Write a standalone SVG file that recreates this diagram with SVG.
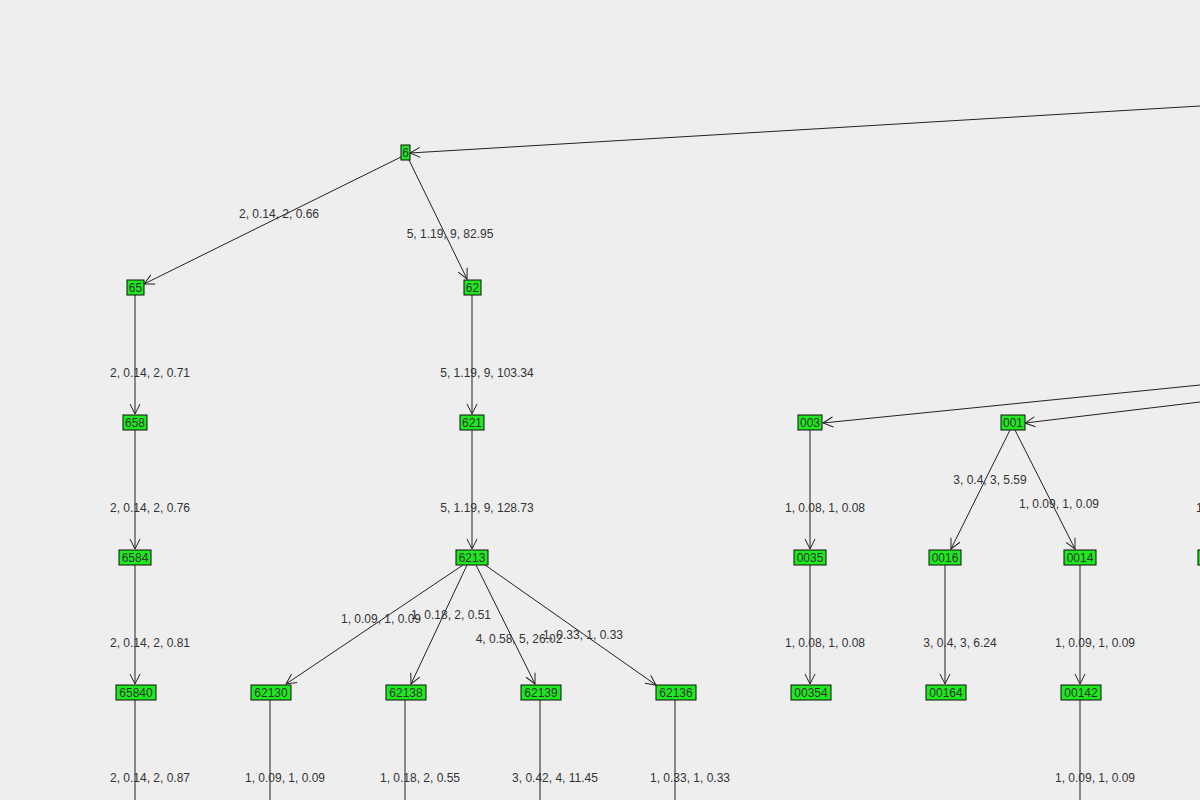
<svg xmlns="http://www.w3.org/2000/svg" width="1200" height="800" viewBox="0 0 1200 800">
<defs>
<marker id="a" viewBox="0 0 12 12" refX="11" refY="6" markerWidth="12" markerHeight="12" markerUnits="userSpaceOnUse" orient="auto"><path d="M1,1 L11,6 L1,11" fill="none" stroke="#222" stroke-width="1"/></marker>
<style>
.n rect{fill:#1ee81e;stroke:#111;stroke-width:1}
.n text{font-family:"Liberation Sans",Arial,sans-serif;font-size:12px;fill:#333;text-anchor:middle}
#edges line{stroke:#222;stroke-width:1}
#edges line.m{marker-end:url(#a)}
.l{font-family:"Liberation Sans",Arial,sans-serif;font-size:12px;fill:#333;text-anchor:middle}
</style>
</defs>
<rect width="1200" height="800" fill="#eeeeee"/>
<g id="edges">
<line class="m" x1="1200" y1="106" x2="410" y2="153"/>
<line class="m" x1="401" y1="157" x2="144" y2="284"/>
<line class="m" x1="409" y1="160" x2="467" y2="279"/>
<line class="m" x1="135" y1="295" x2="135" y2="414"/>
<line class="m" x1="472" y1="295" x2="472" y2="414"/>
<line class="m" x1="135" y1="430" x2="135" y2="549"/>
<line class="m" x1="472" y1="430" x2="472" y2="549"/>
<line class="m" x1="135" y1="565" x2="135" y2="684"/>
<line class="m" x1="463" y1="565" x2="286" y2="684"/>
<line class="m" x1="467" y1="565" x2="411" y2="684"/>
<line class="m" x1="476" y1="565" x2="535" y2="684"/>
<line class="m" x1="485" y1="565" x2="656" y2="685"/>
<line class="m" x1="1200" y1="385" x2="823" y2="423"/>
<line class="m" x1="1200" y1="402" x2="1025" y2="423"/>
<line class="m" x1="810" y1="430" x2="810" y2="549"/>
<line class="m" x1="1010" y1="430" x2="951" y2="549"/>
<line class="m" x1="1015" y1="430" x2="1075" y2="549"/>
<line class="m" x1="810" y1="565" x2="810" y2="684"/>
<line class="m" x1="945" y1="565" x2="945" y2="684"/>
<line class="m" x1="1080" y1="565" x2="1080" y2="684"/>
<line x1="135" y1="700" x2="135" y2="800"/>
<line x1="270" y1="700" x2="270" y2="800"/>
<line x1="405" y1="700" x2="405" y2="800"/>
<line x1="540" y1="700" x2="540" y2="800"/>
<line x1="675" y1="700" x2="675" y2="800"/>
<line x1="1080" y1="700" x2="1080" y2="800"/>
</g>
<g id="labels">
<text class="l" x="279" y="218">2, 0.14, 2, 0.66</text>
<text class="l" x="450" y="238">5, 1.19, 9, 82.95</text>
<text class="l" x="150" y="377">2, 0.14, 2, 0.71</text>
<text class="l" x="487" y="377">5, 1.19, 9, 103.34</text>
<text class="l" x="150" y="512">2, 0.14, 2, 0.76</text>
<text class="l" x="487" y="512">5, 1.19, 9, 128.73</text>
<text class="l" x="825" y="512">1, 0.08, 1, 0.08</text>
<text class="l" x="990" y="484">3, 0.4, 3, 5.59</text>
<text class="l" x="1059" y="508">1, 0.09, 1, 0.09</text>
<text class="l" x="1196" y="512" style="text-anchor:start">1,</text>
<text class="l" x="150" y="647">2, 0.14, 2, 0.81</text>
<text class="l" x="381" y="623">1, 0.09, 1, 0.09</text>
<text class="l" x="451" y="619">1, 0.18, 2, 0.51</text>
<text class="l" x="519" y="643">4, 0.58, 5, 26.02</text>
<text class="l" x="583" y="639">1, 0.33, 1, 0.33</text>
<text class="l" x="825" y="647">1, 0.08, 1, 0.08</text>
<text class="l" x="960" y="647">3, 0.4, 3, 6.24</text>
<text class="l" x="1095" y="647">1, 0.09, 1, 0.09</text>
<text class="l" x="150" y="782">2, 0.14, 2, 0.87</text>
<text class="l" x="285" y="782">1, 0.09, 1, 0.09</text>
<text class="l" x="420" y="782">1, 0.18, 2, 0.55</text>
<text class="l" x="555" y="782">3, 0.42, 4, 11.45</text>
<text class="l" x="690" y="782">1, 0.33, 1, 0.33</text>
<text class="l" x="1095" y="782">1, 0.09, 1, 0.09</text>
</g>
<g id="n6" class="n"><rect x="401" y="145" width="9" height="15"/><text x="405.5" y="157">6</text></g>
<g id="n65" class="n"><rect x="127" y="280" width="17" height="15"/><text x="135.5" y="292">65</text></g>
<g id="n62" class="n"><rect x="464" y="280" width="17" height="15"/><text x="472.5" y="292">62</text></g>
<g id="n658" class="n"><rect x="123" y="415" width="24" height="15"/><text x="135" y="427">658</text></g>
<g id="n621" class="n"><rect x="460" y="415" width="24" height="15"/><text x="472" y="427">621</text></g>
<g id="n003" class="n"><rect x="798" y="415" width="24" height="15"/><text x="810" y="427">003</text></g>
<g id="n001" class="n"><rect x="1001" y="415" width="24" height="15"/><text x="1013" y="427">001</text></g>
<g id="n6584" class="n"><rect x="119" y="550" width="32" height="15"/><text x="135" y="562">6584</text></g>
<g id="n6213" class="n"><rect x="456" y="550" width="32" height="15"/><text x="472" y="562">6213</text></g>
<g id="n0035" class="n"><rect x="794" y="550" width="32" height="15"/><text x="810" y="562">0035</text></g>
<g id="n0016" class="n"><rect x="929" y="550" width="32" height="15"/><text x="945" y="562">0016</text></g>
<g id="n0014" class="n"><rect x="1064" y="550" width="32" height="15"/><text x="1080" y="562">0014</text></g>
<g id="nright" class="n"><rect x="1198" y="550" width="10" height="15"/></g>
<g id="n65840" class="n"><rect x="116" y="685" width="40" height="15"/><text x="136" y="697">65840</text></g>
<g id="n62130" class="n"><rect x="251" y="685" width="40" height="15"/><text x="271" y="697">62130</text></g>
<g id="n62138" class="n"><rect x="386" y="685" width="40" height="15"/><text x="406" y="697">62138</text></g>
<g id="n62139" class="n"><rect x="521" y="685" width="40" height="15"/><text x="541" y="697">62139</text></g>
<g id="n62136" class="n"><rect x="656" y="685" width="40" height="15"/><text x="676" y="697">62136</text></g>
<g id="n00354" class="n"><rect x="791" y="685" width="40" height="15"/><text x="811" y="697">00354</text></g>
<g id="n00164" class="n"><rect x="926" y="685" width="40" height="15"/><text x="946" y="697">00164</text></g>
<g id="n00142" class="n"><rect x="1061" y="685" width="40" height="15"/><text x="1081" y="697">00142</text></g>
</svg>
